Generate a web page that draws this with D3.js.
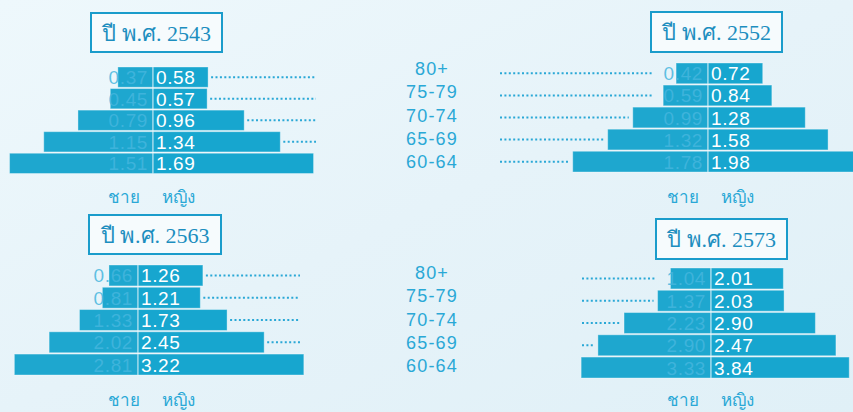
<!DOCTYPE html>
<html><head><meta charset="utf-8">
<script src="https://cdn.jsdelivr.net/npm/d3@7"></script>
<style>
html,body{margin:0;padding:0;background:#e8f4f9;overflow:hidden}
svg{display:block}
</style></head>
<body>
<svg id="chart" width="853" height="412"></svg>
<script>
// ---- data ----
const ages = ["80+", "75-79", "70-74", "65-69", "60-64"];
const years = ["2543", "2552", "2563", "2573"];
const male2543 = [0.37, 0.45, 0.79, 1.15, 1.51];
const female2543 = [0.58, 0.57, 0.96, 1.34, 1.69];
const male2552 = [0.42, 0.59, 0.99, 1.32, 1.78];
const female2552 = [0.72, 0.84, 1.28, 1.58, 1.98];
const male2563 = [0.66, 0.81, 1.33, 2.02, 2.81];
const female2563 = [1.26, 1.21, 1.73, 2.45, 3.22];
const male2573 = [1.04, 1.37, 2.23, 2.90, 3.33];
const female2573 = [2.01, 2.03, 2.90, 3.47, 3.84];
// printed labels (the source prints 2.47 on the 65-69 female bar of 2573)
const femaleLabels2573 = ["2.01", "2.03", "2.90", "2.47", "3.84"];
const titlePrefix = "ปี พ.ศ. ";
const sexLabels = ["ชาย", "หญิง"];

// ---- layout ----
const panels = [
  {year: years[0], male: male2543, female: female2543, cx: 153, top: 67, step: 21.3, mK: 95, fK: 95, dotSide: "right", dotEdge: 316,
   box: [91, 13, 131, 39], sexY: 203},
  {year: years[1], male: male2552, female: female2552, cx: 708, top: 63, step: 21.8, mK: 76, fK: 76, dotSide: "left", dotEdge: 500,
   box: [651, 12, 131, 40], sexY: 203},
  {year: years[2], male: male2563, female: female2563, cx: 138, top: 265, step: 22, mK: 44, fK: 51.5, dotSide: "right", dotEdge: 300,
   box: [89, 215, 132, 39], sexY: 406},
  {year: years[3], male: male2573, female: female2573, fLabels: femaleLabels2573, cx: 711, top: 268, step: 22, mK: 39, fK: 36, dotSide: "left", dotEdge: 582,
   box: [656, 219, 131, 40], sexY: 406}
];

const svg = d3.select("#chart");
const defs = svg.append("defs");
const bg = defs.append("linearGradient").attr("id", "bg").attr("x1", 0).attr("y1", 0).attr("x2", 1).attr("y2", 1);
bg.append("stop").attr("offset", "0%").attr("stop-color", "#eef8fc");
bg.append("stop").attr("offset", "50%").attr("stop-color", "#e6f3f9");
bg.append("stop").attr("offset", "100%").attr("stop-color", "#e0f0f7");
svg.append("rect").attr("width", 853).attr("height", 412).attr("fill", "url(#bg)");

const barColor = "#17a6cf";
const maleBar = "#1ea7cf";
const textBlue = "#2aa8d6";
const numFont = "Liberation Sans, Arial, sans-serif";

panels.forEach(p => {
  const g = svg.append("g");
  const y = d3.scaleBand().domain(ages).range([p.top, p.top + ages.length * p.step]).paddingInner(0.06);
  const xm = d3.scaleLinear().domain([0, 1]).range([0, p.mK]);
  const xf = d3.scaleLinear().domain([0, 1]).range([0, p.fK]);
  const rows = ages.map((a, i) => ({age: a, m: p.male[i], f: p.female[i], fl: p.fLabels ? p.fLabels[i] : d3.format(".2f")(p.female[i])}));

  g.selectAll(".mb").data(rows).join("rect")
    .attr("x", d => p.cx - xm(d.m)).attr("y", d => y(d.age))
    .attr("width", d => xm(d.m)).attr("height", y.bandwidth())
    .attr("fill", maleBar).attr("stroke", "rgba(255,255,255,0.35)").attr("stroke-width", 1);
  g.selectAll(".fb").data(rows).join("rect")
    .attr("x", p.cx).attr("y", d => y(d.age))
    .attr("width", d => xf(d.f)).attr("height", y.bandwidth())
    .attr("fill", barColor).attr("stroke", "rgba(255,255,255,0.35)").attr("stroke-width", 1);
  g.append("line").attr("x1", p.cx).attr("x2", p.cx)
    .attr("y1", p.top).attr("y2", p.top + ages.length * p.step)
    .attr("stroke", "rgba(255,255,255,0.55)").attr("stroke-width", 1);

  const ml = g.selectAll(".ml").data(rows).join("text")
    .attr("x", p.cx - 5).attr("y", d => y(d.age) + y.bandwidth() / 2 + 7)
    .attr("text-anchor", "end").attr("font-family", numFont).attr("font-size", 19)
    .attr("letter-spacing", "0.6px")
    .attr("fill", "#45b6de").attr("fill-opacity", 0.85)
    .text(d => d3.format(".2f")(d.m));
  g.selectAll(".fl").data(rows).join("text")
    .attr("x", p.cx + 3).attr("y", d => y(d.age) + y.bandwidth() / 2 + 7)
    .attr("font-family", numFont).attr("font-size", 19).attr("letter-spacing", "0.6px")
    .attr("fill", "#ffffff").text(d => d.fl);

  const mlNodes = ml.nodes();
  rows.forEach((d, i) => {
    const cy = y(d.age) + y.bandwidth() / 2;
    let x1, x2;
    if (p.dotSide === "right") {
      x1 = p.cx + xf(d.f) + 3; x2 = p.dotEdge;
    } else {
      const tw = mlNodes[i].getComputedTextLength();
      const labelLeft = p.cx - 5 - tw;
      x1 = p.dotEdge; x2 = Math.min(p.cx - xm(d.m) - 4, labelLeft - 10);
    }
    if (x2 - x1 > 2) {
      g.append("line").attr("x1", x1).attr("x2", x2).attr("y1", cy).attr("y2", cy)
        .attr("stroke", textBlue).attr("stroke-width", 2).attr("stroke-dasharray", "2,2.4");
    }
  });

  const [bx, by, bw, bh] = p.box;
  g.append("rect").attr("x", bx).attr("y", by).attr("width", bw).attr("height", bh)
    .attr("fill", "#f6fbfd").attr("stroke", "#1a9ccb").attr("stroke-width", 2);
  g.append("text").attr("x", bx + bw / 2).attr("y", by + bh / 2 + 8)
    .attr("text-anchor", "middle").attr("font-family", "Liberation Serif, DejaVu Serif, serif")
    .attr("font-size", 22).attr("fill", "#1c8ebf").text(titlePrefix + p.year);

  g.selectAll(".sx").data(sexLabels).join("text")
    .attr("x", (d, i) => (i === 0 ? 124 : 178) + (p.cx > 400 ? 559 : 0))
    .attr("y", p.sexY).attr("text-anchor", "middle")
    .attr("font-family", "Noto Sans, sans-serif").attr("font-size", 17)
    .attr("fill", textBlue).text(d => d);
});

const ageTop = d3.scalePoint().domain(ages).range([75, 168]);
const ageBot = d3.scalePoint().domain(ages).range([279, 372]);
[ageTop, ageBot].forEach(sc => {
  svg.append("g").selectAll("text").data(ages).join("text")
    .attr("x", 432).attr("y", d => sc(d)).attr("text-anchor", "middle")
    .attr("font-family", numFont).attr("font-size", 18).attr("letter-spacing", "1.2px")
    .attr("fill", textBlue).text(d => d);
});
</script>
</body></html>
